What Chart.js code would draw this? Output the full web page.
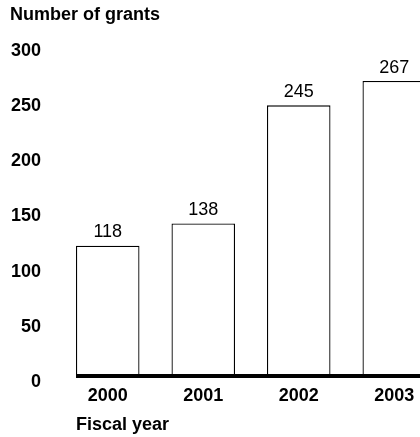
<!DOCTYPE html>
<html>
<head>
<meta charset="utf-8">
<script src="https://cdn.jsdelivr.net/npm/chart.js@4"></script>
<style>
  html, body { margin: 0; padding: 0; background: #fff; overflow: hidden; }
  #wrap { width: 460px; height: 437px; }
</style>
</head>
<body>
<div id="wrap"><canvas id="grants-chart"></canvas></div>
<script>
// Grants awarded per fiscal year
const years = ['2000', '2001', '2002', '2003'];
const grants = [118, 138, 245, 267];
const yTicks = [0, 50, 100, 150, 200, 250, 300];

const FONT = '"Liberation Sans", Arial, Helvetica, sans-serif';

// thick baseline, value labels above bars and the x axis caption
const barExtras = {
    id: 'barExtras',
    afterDatasetsDraw(chart) {
        const ctx = chart.ctx;
        const meta = chart.getDatasetMeta(0);
        const y0 = chart.scales.y.getPixelForValue(0);
        const first = meta.data[0];
        const startX = first.x - first.width / 2;

        ctx.save();
        ctx.strokeStyle = '#000';
        ctx.lineWidth = 4;
        ctx.beginPath();
        ctx.moveTo(startX, y0);
        ctx.lineTo(chart.width, y0);
        ctx.stroke();

        ctx.fillStyle = '#000';
        ctx.font = '18px ' + FONT;
        ctx.textAlign = 'center';
        ctx.textBaseline = 'alphabetic';
        meta.data.forEach(function(bar, i) {
            ctx.fillText(grants[i], bar.x, bar.y - 8.5);
        });

        ctx.font = 'bold 18px ' + FONT;
        ctx.textAlign = 'left';
        ctx.fillText('Fiscal year', startX, 430);
        ctx.restore();
    }
};

const ctx = document.getElementById('grants-chart').getContext('2d');
new Chart(ctx, {
    type: 'bar',
    data: {
        labels: years,
        datasets: [{
            data: grants,
            backgroundColor: '#fff',
            borderColor: '#000',
            borderWidth: 1.3,
            categoryPercentage: 1,
            barPercentage: 0.665
        }]
    },
    options: {
        responsive: true,
        maintainAspectRatio: false,
        animation: false,
        layout: { padding: { left: 10, right: 18, top: 0, bottom: 30 } },
        plugins: {
            legend: { display: false },
            tooltip: { enabled: false },
            title: {
                display: true,
                text: 'Number of grants',
                align: 'start',
                color: '#000',
                font: { family: FONT, size: 18, weight: 'bold', lineHeight: 1.2 },
                padding: { top: 4, bottom: 19 }
            }
        },
        scales: {
            x: {
                grid: { display: false, drawTicks: false },
                border: { display: false },
                ticks: {
                    color: '#000',
                    font: { family: FONT, size: 18, weight: 'bold' },
                    padding: 9,
                    maxRotation: 0
                },
                afterFit(scale) { scale.height = 31; }
            },
            y: {
                min: 0,
                max: 300,
                grid: { display: false, drawTicks: false },
                border: { display: false },
                afterBuildTicks(scale) {
                    scale.ticks = yTicks.map(function(v) { return { value: v }; });
                },
                ticks: {
                    color: '#000',
                    font: { family: FONT, size: 18, weight: 'bold' },
                    padding: 19,
                    labelOffset: 6
                },
                afterFit(scale) { scale.width = 50; }
            }
        }
    },
    plugins: [barExtras]
});
</script>
</body>
</html>
